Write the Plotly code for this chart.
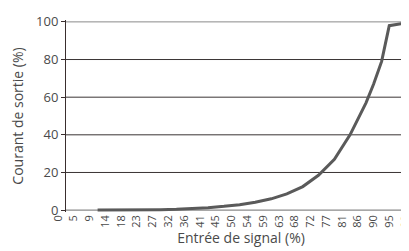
import plotly.graph_objects as go

# Data
x_signal = [9.1, 13.6, 18.2, 22.7, 27.3, 31.8, 36.4, 40.9, 45.5, 50.0, 54.5, 59.1,
            63.6, 68.2, 72.7, 77.3, 81.8, 84.0, 86.4, 88.6, 90.9, 93.1, 100.0]
y_current = [0.0, 0.0, 0.0, 0.1, 0.2, 0.4, 0.7, 1.3, 2.0, 2.9, 4.2, 6.0,
             8.6, 12.5, 18.5, 27.0, 40.0, 48.0, 57.0, 67.0, 79.0, 98.0, 100.0]

x_tick_labels = ["0", "5", "9", "14", "18", "23", "27", "32", "36", "41", "45", "50",
                 "54", "59", "63", "68", "72", "77", "81", "86", "90", "95", "99"]
x_tick_vals = [i * 100 / 22 for i in range(len(x_tick_labels))]
y_tick_vals = [0, 20, 40, 60, 80, 100]
x_title = "Entrée de signal (%)"
y_title = "Courant de sortie (%)"

FONT = "Open Sans"
TEXT = "#4a4a4a"

fig = go.Figure()
fig.add_trace(go.Scatter(
    x=x_signal, y=y_current, mode="lines",
    line=dict(color="#5a5a5a", width=3),
    hoverinfo="skip", showlegend=False,
))

shapes = []
for v in y_tick_vals[1:]:
    shapes.append(dict(
        type="line", xref="paper", yref="y", x0=0, x1=1, y0=v, y1=v,
        line=dict(color="#8a8a8a" if v == 100 else "#3a3434", width=1),
        layer="below",
    ))
shapes.append(dict(
    type="line", xref="paper", yref="y", x0=0, x1=1, y0=0, y1=0,
    line=dict(color="#8a8a8a", width=1.2), layer="below",
))

fig.update_layout(
    width=409, height=251,
    margin=dict(l=58, r=1, t=12, b=47),
    paper_bgcolor="white", plot_bgcolor="white",
    font=dict(family=FONT, color=TEXT, size=13),
    shapes=shapes,
    xaxis=dict(
        range=[0, 100.8], automargin=False,
        tickmode="array", tickvals=x_tick_vals, ticktext=x_tick_labels,
        tickangle=-90, tickfont=dict(size=11, color=TEXT),
        ticklabelshift=-8,
        showgrid=False, zeroline=False, showline=False, ticks="",
        title=dict(text=x_title, font=dict(size=14, color=TEXT), standoff=4),
    ),
    yaxis=dict(
        range=[-1, 101], automargin=False,
        tickmode="array", tickvals=y_tick_vals,
        tickfont=dict(size=13, color=TEXT),
        showgrid=False, zeroline=False,
        showline=True, linecolor="#3a2e2e", linewidth=1,
        ticks="outside", ticklen=4, tickcolor="#3a2e2e",
        title=dict(text=y_title, font=dict(size=14, color=TEXT), standoff=26),
    ),
)

fig.write_html("out.html")
